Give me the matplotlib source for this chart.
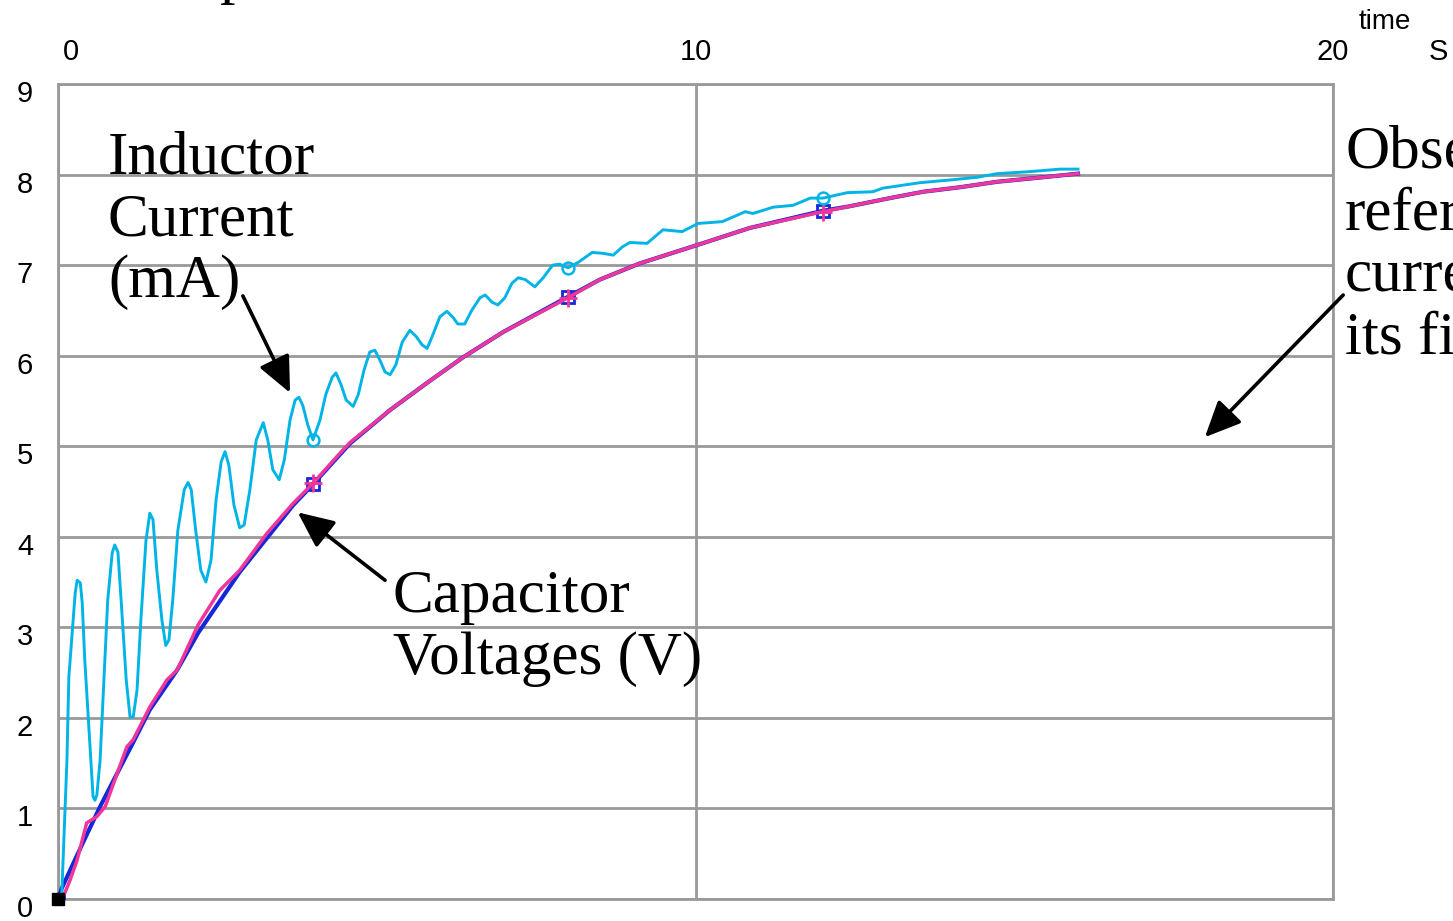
import numpy as np
import matplotlib
matplotlib.use('Agg')
import matplotlib.pyplot as plt
from matplotlib.transforms import ScaledTranslation

# inductor current (mA), oscillating start
t_il = [0, 0.03, 0.06, 0.14, 0.17, 0.27, 0.30, 0.35, 0.38, 0.42, 0.50, 0.55, 0.58, 0.61, 0.66,
        0.72, 0.78, 0.85, 0.89, 0.94, 0.99, 1.07, 1.13, 1.18, 1.24, 1.30, 1.38, 1.44, 1.49, 1.55,
        1.63, 1.69, 1.74, 1.80, 1.88, 1.98, 2.04, 2.09, 2.16, 2.24, 2.32, 2.40, 2.48, 2.56, 2.62,
        2.68, 2.76, 2.85, 2.92, 3.01, 3.11, 3.22, 3.29, 3.37, 3.47, 3.55, 3.64, 3.72, 3.78, 3.84,
        3.92, 4.00, 4.11, 4.20, 4.30, 4.36, 4.44, 4.52, 4.63, 4.71, 4.80, 4.89, 4.97, 5.05, 5.13,
        5.21, 5.30, 5.40, 5.52, 5.62, 5.71, 5.79, 5.88, 5.99, 6.10, 6.20, 6.27, 6.38, 6.49, 6.62,
        6.70, 6.81, 6.90, 7.01, 7.12, 7.22, 7.33, 7.48, 7.61, 7.76, 7.87, 8.00, 8.16, 8.38, 8.55,
        8.71, 8.85, 8.97, 9.24, 9.49, 9.79, 10.04, 10.42, 10.78, 10.90, 11.22, 11.53, 11.80, 12.00,
        12.38, 12.78, 12.94, 13.52, 13.99, 14.42, 14.73, 15.20, 15.72, 16.00]
i_l = [0, 0.02, 0.07, 1.53, 2.45, 3.38, 3.52, 3.49, 3.27, 2.64, 1.72, 1.13, 1.09, 1.15, 1.53,
       2.42, 3.30, 3.82, 3.91, 3.83, 3.30, 2.42, 2.01, 2.01, 2.31, 3.08, 3.96, 4.26, 4.19, 3.63,
       3.08, 2.80, 2.86, 3.30, 4.07, 4.52, 4.60, 4.52, 4.07, 3.63, 3.50, 3.74, 4.41, 4.83, 4.94,
       4.79, 4.35, 4.10, 4.13, 4.52, 5.07, 5.26, 5.07, 4.74, 4.63, 4.85, 5.29, 5.51, 5.54, 5.45,
       5.23, 5.07, 5.29, 5.57, 5.76, 5.81, 5.68, 5.51, 5.44, 5.57, 5.84, 6.04, 6.06, 5.95, 5.82,
       5.79, 5.90, 6.15, 6.28, 6.21, 6.12, 6.08, 6.23, 6.43, 6.49, 6.42, 6.35, 6.35, 6.50, 6.64,
       6.67, 6.59, 6.56, 6.64, 6.80, 6.86, 6.84, 6.76, 6.86, 7.00, 7.01, 6.97, 7.03, 7.14, 7.13,
       7.11, 7.20, 7.25, 7.24, 7.39, 7.37, 7.46, 7.48, 7.59, 7.57, 7.64, 7.66, 7.74, 7.74,
       7.80, 7.81, 7.85, 7.91, 7.94, 7.97, 8.01, 8.03, 8.06, 8.06]

# capacitor voltages (V)
t_vc1 = [0, 0.08, 0.19, 0.30, 0.45, 0.61, 0.74, 0.93, 1.08, 1.18, 1.44, 1.71, 1.87, 2.20, 2.54,
         2.85, 3.28, 3.69, 4.00, 4.42, 4.58, 5.21, 5.79, 6.35, 6.98, 8.00, 8.50, 9.13, 10.02,
         10.85, 12.00, 12.42, 13.05, 13.57, 14.15, 14.73, 15.45, 16.00]
v_c1 = [0, 0.02, 0.21, 0.43, 0.84, 0.91, 1.02, 1.39, 1.68, 1.76, 2.12, 2.42, 2.53, 3.03, 3.41,
        3.63, 4.04, 4.37, 4.59, 4.92, 5.04, 5.40, 5.70, 5.98, 6.26, 6.64, 6.84, 7.02, 7.22,
        7.41, 7.59, 7.65, 7.74, 7.81, 7.86, 7.92, 7.97, 8.01]
t_vc2 = [0, 0.06, 0.39, 0.66, 0.93, 1.18, 1.44, 1.87, 2.20, 2.85, 3.69, 4.00, 4.58, 5.21, 5.79,
         6.35, 6.98, 8.00, 8.50, 9.13, 10.02, 10.85, 12.00, 12.42, 13.05, 13.57, 14.15, 14.73,
         15.45, 16.00]
v_c2 = [0, 0.12, 0.62, 1.02, 1.39, 1.73, 2.09, 2.53, 2.94, 3.61, 4.35, 4.58, 5.03, 5.40, 5.70,
        5.98, 6.26, 6.65, 6.84, 7.02, 7.22, 7.41, 7.60, 7.65, 7.74, 7.81, 7.86, 7.92, 7.97, 8.01]

mark_times = [0, 4, 8, 12]
x_ticks = [0, 10, 20]
y_ticks = list(range(10))

W, H = 1453, 921
fig = plt.figure(figsize=(W / 100, H / 100), dpi=100)
ax = fig.add_axes([58 / W, 1 - 899 / H, (1333 - 58) / W, (899 - 84) / H])

grey = '#999999'
serif = ['Liberation Serif', 'DejaVu Serif']
sans = ['Liberation Sans', 'DejaVu Sans']


def marks(ts):
    return list(np.where(np.isin(np.round(ts, 2), mark_times))[0])


ax.plot(t_vc2, v_c2, color='#1428D8', lw=3.0, marker='s', ms=8, mfc='none', mew=2,
        markevery=marks(t_vc2), zorder=3)
ax.plot(t_vc1, v_c1, color='#F0369A', lw=2.5, marker='+', ms=13, mew=2,
        markevery=marks(t_vc1)[1:], zorder=4)
ax.plot(t_il, i_l, color='#00B4E6', lw=2.1, marker='o', ms=8.5, mfc='none', mew=1.8,
        markevery=marks(t_il)[1:], zorder=5)
ax.plot([t_vc2[0]], [v_c2[0]], 's', color='black', ms=8, zorder=6, clip_on=False)

ax.set_xlim(0, 20)
ax.set_ylim(0, 9)
ax.set_xticks(x_ticks)
ax.set_yticks(y_ticks)
ax.xaxis.tick_top()
ax.tick_params(length=0, labelsize=21)
ax.tick_params(axis='x', pad=13)
ax.tick_params(axis='y', pad=18)
for lab in ax.get_xticklabels() + ax.get_yticklabels():
    lab.set_family(sans)
for lab in ax.get_yticklabels():
    lab.set_transform(lab.get_transform() + ScaledTranslation(0, -0.07, fig.dpi_scale_trans))
ax.get_xticklabels()[0].set_transform(
    ax.get_xticklabels()[0].get_transform() + ScaledTranslation(0.13, 0, fig.dpi_scale_trans))

ax.grid(True, color=grey, lw=2)
ax.set_axisbelow(True)
for s in ax.spines.values():
    s.set_color(grey)
    s.set_linewidth(2)

fig.text(1385 / W, 1 - 22 / H, 'time', ha='center', va='center', fontsize=20, family=sans)
fig.text(1438 / W, 1 - 52 / H, 'S', ha='center', va='center', fontsize=21, family=sans)
fig.text(143 / W, 1 + 8 / H, 'Step', ha='left', va='baseline', fontsize=44, family=serif)


def label(lines, x, y0, dy=62):
    for k, s in enumerate(lines):
        fig.text(x / W, 1 - (y0 + k * dy) / H, s, ha='left', va='baseline',
                 fontsize=44, family=serif)


label(['Inductor', 'Current', '(mA)'], 108, 173)
label(['Capacitor', 'Voltages (V)'], 393, 612)
label(['Observe', 'reference', 'current', 'its final'], 1345, 168)

arrow = dict(arrowstyle='-|>,head_length=1.1,head_width=0.5', mutation_scale=20,
             color='black', lw=2.6, shrinkA=0, shrinkB=0)
ax.annotate('', xy=(3.64, 5.59), xytext=(2.90, 6.66), arrowprops=arrow)
ax.annotate('', xy=(3.76, 4.27), xytext=(5.13, 3.52), arrowprops=arrow)
ax.annotate('', xy=(17.99, 5.10), xytext=(20.16, 6.67), arrowprops=arrow,
            annotation_clip=False)

fig.savefig('out.png', dpi=100)
